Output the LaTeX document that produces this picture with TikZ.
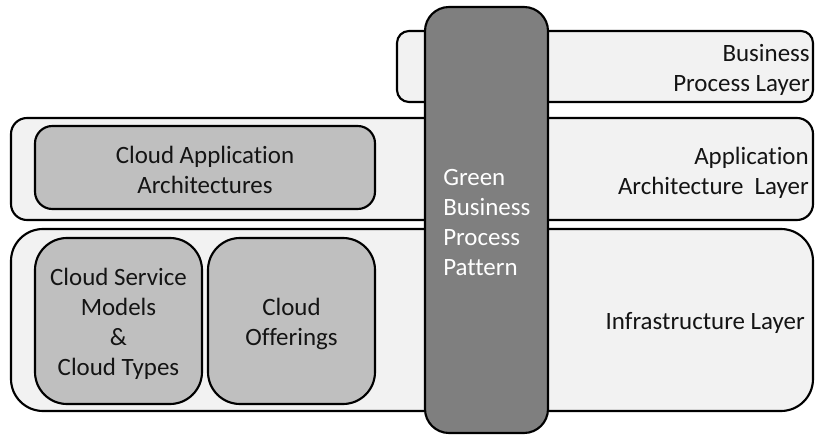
\documentclass[tikz,border=0pt]{standalone}
\usepackage{fontspec}
\setmainfont{Carlito}[Ligatures={NoCommon}]
\definecolor{layerfill}{HTML}{F2F2F2}
\definecolor{boxfill}{HTML}{BFBFBF}
\definecolor{pillarfill}{HTML}{7F7F7F}
\definecolor{ink}{HTML}{141414}
\begin{document}
\begin{tikzpicture}[x=0.75pt,y=-0.75pt,
  every node/.style={font=\fontsize{18.7}{22.5}\selectfont, text=ink},
  sized/.style 2 args={minimum width={#1*0.75pt}, minimum height={#2*0.75pt}, inner sep=0pt},
  layer/.style={draw=black, line width=1.6pt, fill=layerfill},
  inbox/.style={draw=black, line width=1.6pt, fill=boxfill},
  pillar/.style={draw=black, line width=1.6pt, fill=pillarfill, rounded corners=18pt},
  boxtext/.style={align=center, inner sep=0pt},
  layerlabel/.style={anchor=east, align=right, inner sep=0pt}]
  \useasboundingbox (0,0) rectangle (815,435);

  % layers
  \node[layer, sized={416}{71}, rounded corners=9pt] (bpl) at (605,66.5) {};
  \node[layer, sized={802}{102}, rounded corners=12pt] (aal) at (412,169) {};
  \node[layer, sized={802}{182}, rounded corners=24pt] (infl) at (412,320) {};

  % components inside the layers
  \node[inbox, sized={340}{83}, rounded corners=13pt] (caa) at (205,167.5) {};
  \node[inbox, sized={167}{166}, rounded corners=24pt] (csm) at (118.5,321) {};
  \node[inbox, sized={167}{166}, rounded corners=24pt] (co) at (291.5,321) {};
  \node[boxtext] (caatext) at (205,170) {Cloud Application\\Architectures};
  \node[boxtext] (csmtext) at (118.5,324) {Cloud Service\\Models\\\&\\Cloud Types};
  \node[boxtext] (cotext) at (291.5,324) {Cloud\\Offerings};

  % layer names
  \node[layerlabel] (bpltext) at (810,70) {Business\\Process Layer};
  \node[layerlabel] (aaltext) at (809,172.5) {Application\\Architecture\ \ Layer};
  \node[layerlabel] (infltext) at (805,323) {Infrastructure Layer};

  % vertical pattern pillar across all layers
  \node[pillar, sized={123}{426}] (gbp) at (486.5,220) {};
  \node[anchor=west, align=left, inner sep=0pt, text=white] (gbptext) at (443,223)
    {Green\\Business\\Process\\Pattern};
\end{tikzpicture}
\end{document}
